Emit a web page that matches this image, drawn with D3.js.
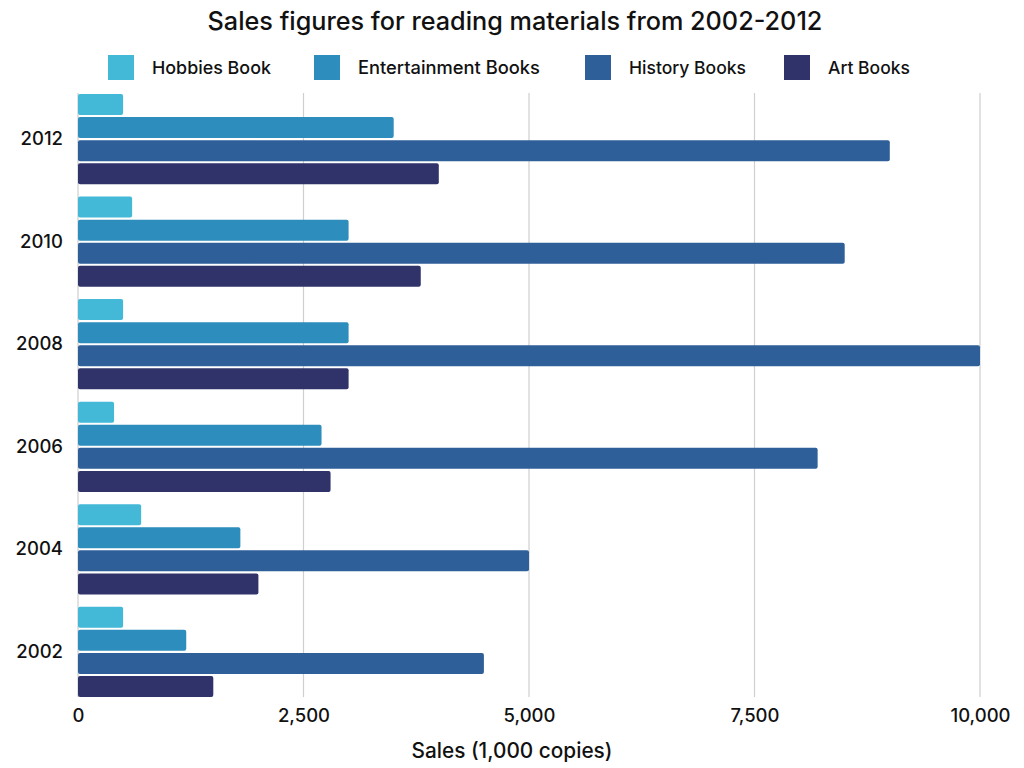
<!DOCTYPE html>
<html><head><meta charset="utf-8">
<script src="https://cdn.jsdelivr.net/npm/d3@7"></script>
<style>body{margin:0;background:#fff;} text{font-family:Inter,"Open Sans",sans-serif;fill:#111;}</style>
</head><body>
<svg id="c" width="1024" height="768"></svg>
<script>
const years = ["2012","2010","2008","2006","2004","2002"];
const seriesNames = ["Hobbies Book","Entertainment Books","History Books","Art Books"];
const hobbies = [500,600,500,400,700,500];
const entertainment = [3500,3000,3000,2700,1800,1200];
const history = [9000,8500,10000,8200,5000,4500];
const art = [4000,3800,3000,2800,2000,1500];
const xTicks = [0,2500,5000,7500,10000];
const colors = ["#43b9d7","#2d8dbc","#2f5f99","#2f336a"];

const seriesValues = [hobbies, entertainment, history, art];
const svg = d3.select("#c");
const x = d3.scaleLinear().domain([0,10000]).range([78,980]);
const y = d3.scaleBand().domain(years).range([94,697]).paddingInner(0.12).paddingOuter(0);
const yi = d3.scaleBand().domain(seriesNames).range([0,y.bandwidth()]).paddingInner(0.09);

function fit(sel, w){ // adjust font size so the text spans the reference width
  const n = sel.node(); const cur = n.getComputedTextLength();
  const fs = parseFloat(sel.style("font-size"));
  sel.style("font-size", (fs*w/cur).toFixed(2)+"px");
}

// title
const title = svg.append("text").attr("x",515).attr("y",30).attr("text-anchor","middle")
  .style("font-size","21px").style("font-weight","500").text("Sales figures for reading materials from 2002-2012");
fit(title, 615);

// legend
const legX = [108,314,585,784];
const legW = [119,182,117,82];
const lg = svg.append("g");
seriesNames.forEach((n,i)=>{
  lg.append("rect").attr("x",legX[i]).attr("y",55).attr("width",26).attr("height",25).attr("fill",colors[i]);
  const t = lg.append("text").attr("x",legX[i]+44).attr("y",68).attr("dy","0.35em").style("font-size","16px").style("font-weight","500").text(n);
  fit(t, legW[i]);
});

// grid
svg.append("g").selectAll("line").data(xTicks.slice(1)).join("line")
  .attr("x1",d=>x(d)).attr("x2",d=>x(d)).attr("y1",93).attr("y2",697)
  .attr("stroke","#cfcfcf").attr("stroke-width",1.2);
svg.append("line").attr("x1",x(0)).attr("x2",x(0)).attr("y1",93).attr("y2",697).attr("stroke","#cfcfcf").attr("stroke-width",1.2);

// bars
const groups = svg.append("g").selectAll("g").data(years).join("g")
  .attr("transform",d=>`translate(0,${y(d)})`);
groups.selectAll("rect").data((d,yiIdx)=>seriesNames.map((s,k)=>({s,k,v:seriesValues[k][yiIdx]}))).join("rect")
  .attr("x",x(0)).attr("y",d=>yi(d.s)).attr("height",yi.bandwidth())
  .attr("width",d=>x(d.v)-x(0)).attr("rx",2).attr("fill",d=>colors[d.k]);

// y axis
const yAxis = d3.axisLeft(y).tickSize(0).tickPadding(15);
const ya = svg.append("g").attr("transform",`translate(${x(0)},0)`).call(yAxis);
ya.select(".domain").remove();
ya.selectAll("text").style("font-size","18.5px").style("font-family","Inter,sans-serif").style("font-weight","500").attr("fill","#111");

// x axis
const xAxis = d3.axisBottom(x).tickValues(xTicks).tickSize(0).tickPadding(12).tickFormat(d3.format(","));
const xa = svg.append("g").attr("transform","translate(0,697)").call(xAxis);
xa.select(".domain").remove();
xa.selectAll("text").style("font-size","18.5px").style("font-family","Inter,sans-serif").style("font-weight","500").attr("fill","#111");

const xt = svg.append("text").attr("x",512).attr("y",758).attr("text-anchor","middle").style("font-size","17px").style("font-weight","500").text("Sales (1,000 copies)");
fit(xt, 201);
</script>
</body></html>
